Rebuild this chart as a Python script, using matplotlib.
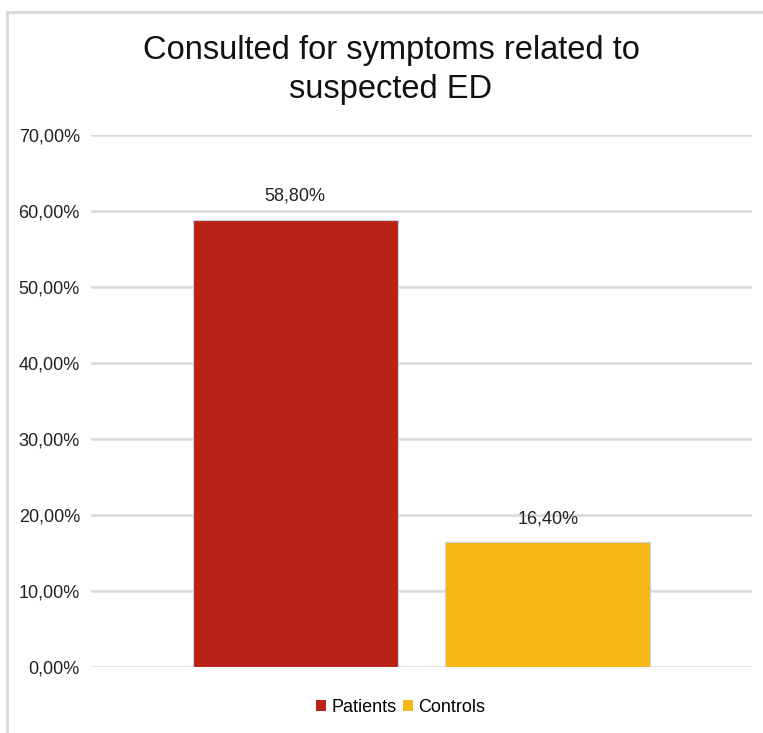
import matplotlib
matplotlib.use("Agg")
import matplotlib.pyplot as plt
from matplotlib.lines import Line2D
from matplotlib.patches import Patch

plt.rcParams["font.family"] = ["Liberation Sans", "DejaVu Sans"]

series = ["Patients", "Controls"]
values = [58.80, 16.40]
colors = ["#B82218", "#F5B817"]
yticks = [0, 10, 20, 30, 40, 50, 60, 70]

W, H = 763, 733
fig = plt.figure(figsize=(W / 100, H / 100), dpi=100)
ax = fig.add_axes([91 / W, 1 - 667 / H, (752 - 91) / W, (667 - 135) / H])

# chart frame: only left and top edges fall inside the image
fig.add_artist(Line2D([7 / W, 7 / W], [0, 1 - 12 / H], color="#d9d9d9", lw=2))
fig.add_artist(Line2D([7 / W, 1], [1 - 12 / H, 1 - 12 / H], color="#d9d9d9", lw=2))

width = 0.31
offsets = [-0.191, 0.191]
for name, val, col, off in zip(series, values, colors, offsets):
    ax.bar(off, val, width=width, color=col, edgecolor="#c6d3dc", linewidth=0.8,
           zorder=3)
    ax.text(off, val + 2.0, f"{val:.2f}%".replace(".", ","), ha="center",
            va="bottom", fontsize=13, color="#222222")

ax.set_xlim(-0.5, 0.5)
ax.set_ylim(0, 70)
ax.set_yticks(yticks)
ax.set_yticklabels([f"{v:.2f}%".replace(".", ",") for v in yticks],
                   fontsize=13, color="#222222")
ax.set_xticks([])
ax.tick_params(axis="y", length=0, pad=8)
ax.yaxis.grid(True, color="#d9d9d9", lw=1.8, zorder=0)
for s in ax.spines.values():
    s.set_visible(False)

fig.text(391 / W, 1 - 70 / H, "Consulted for symptoms related to\nsuspected ED",
         ha="center", va="center", fontsize=23.5, linespacing=1.3, color="#111111")

handles = [Patch(facecolor=c, edgecolor="none") for c in colors]
fig.legend(handles, series, loc="center", bbox_to_anchor=(401 / W, 1 - 707 / H),
           ncol=2, frameon=False, fontsize=13, handlelength=0.55, handleheight=0.55,
           handletextpad=0.3, columnspacing=0.35)

fig.savefig("out.png", dpi=100)
